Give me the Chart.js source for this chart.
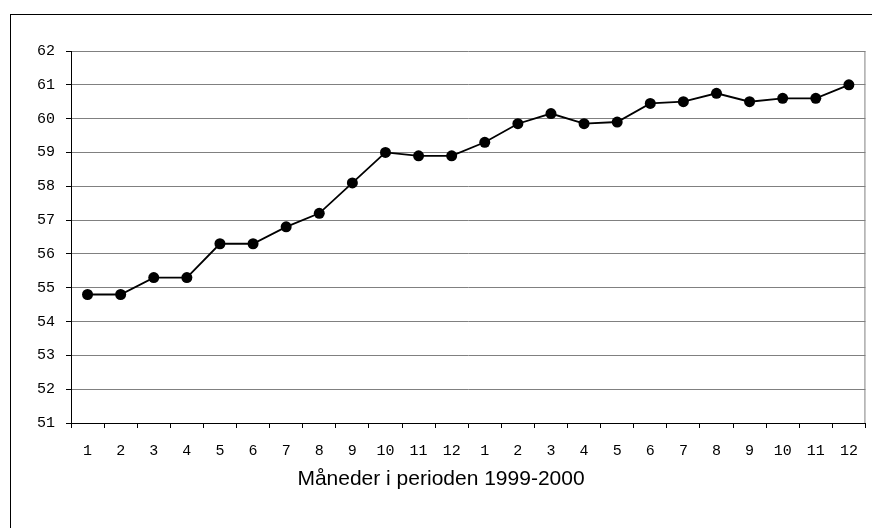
<!DOCTYPE html>
<html>
<head>
<meta charset="utf-8">
<script src="https://cdn.jsdelivr.net/npm/chart.js@4"></script>
<style>
  html, body { margin: 0; padding: 0; background: #fff; }
  #wrap { position: relative; width: 872px; height: 528px; overflow: hidden; }
  #frame { position: absolute; left: 10px; top: 14px; width: 900px; height: 600px; border: 1px solid #000; }
  canvas { position: absolute; left: 0; top: 0; }
</style>
</head>
<body>
<div id="wrap">
  <div id="frame"></div>
  <canvas id="chart" width="872" height="528"></canvas>
</div>
<script>
// months across 1999-2000
const months = ['1','2','3','4','5','6','7','8','9','10','11','12',
                '1','2','3','4','5','6','7','8','9','10','11','12'];
const values = [54.8, 54.8, 55.3, 55.3, 56.3, 56.3, 56.8, 57.2, 58.1, 59.0, 58.9, 58.9,
                59.3, 59.85, 60.15, 59.85, 59.9, 60.45, 60.5, 60.75, 60.5, 60.6, 60.6, 61.0];
const yMin = 51;
const yMax = 62;
const axisTitle = 'Måneder i perioden 1999-2000';

const tickFont = { family: '"Liberation Mono", "Courier New", monospace', size: 15 };

// gray right edge of the plot area
const plotEdge = {
    id: 'plotEdge',
    beforeDatasetsDraw(chart) {
        const a = chart.chartArea;
        const c = chart.ctx;
        c.save();
        c.strokeStyle = '#808080';
        c.lineWidth = 1;
        c.beginPath();
        c.moveTo(a.right - 0.5, a.top);
        c.lineTo(a.right - 0.5, a.bottom);
        c.stroke();
        c.restore();
    }
};

new Chart(document.getElementById('chart'), {
    type: 'line',
    data: {
        labels: months,
        datasets: [{
            data: values,
            borderColor: '#000',
            borderWidth: 1.8,
            pointBackgroundColor: '#000',
            pointBorderColor: '#000',
            pointRadius: 5.5,
            pointBorderWidth: 0,
            tension: 0,
            fill: false
        }]
    },
    options: {
        responsive: false,
        animation: false,
        layout: { padding: { top: 51, right: 4, left: 14, bottom: 0 } },
        plugins: {
            legend: { display: false },
            tooltip: { enabled: false },
            title: {
                display: true,
                position: 'bottom',
                text: axisTitle,
                color: '#000',
                font: { family: '"Liberation Sans", Arial, sans-serif', size: 21, weight: 'normal', lineHeight: 1.2 },
                padding: { top: 0, bottom: 35.8 }
            }
        },
        scales: {
            x: {
                type: 'category',
                offset: true,
                grid: {
                    offset: true,
                    drawOnChartArea: false,
                    tickLength: 5,
                    tickColor: '#000',
                    color: '#000'
                },
                border: { color: '#000', width: 1 },
                ticks: { color: '#000', font: tickFont, padding: 14, maxRotation: 0, autoSkip: false },
                afterFit(scale) { scale.height = 44; }
            },
            y: {
                min: yMin,
                max: yMax,
                ticks: { stepSize: 1, color: '#000', font: tickFont, padding: 11 },
                grid: {
                    color: '#808080',
                    tickColor: '#000',
                    tickLength: 5,
                    lineWidth: 1
                },
                border: { color: '#000', width: 1 },
                afterFit(scale) { scale.width = 57; }
            }
        }
    },
    plugins: [plotEdge]
});
</script>
</body>
</html>
